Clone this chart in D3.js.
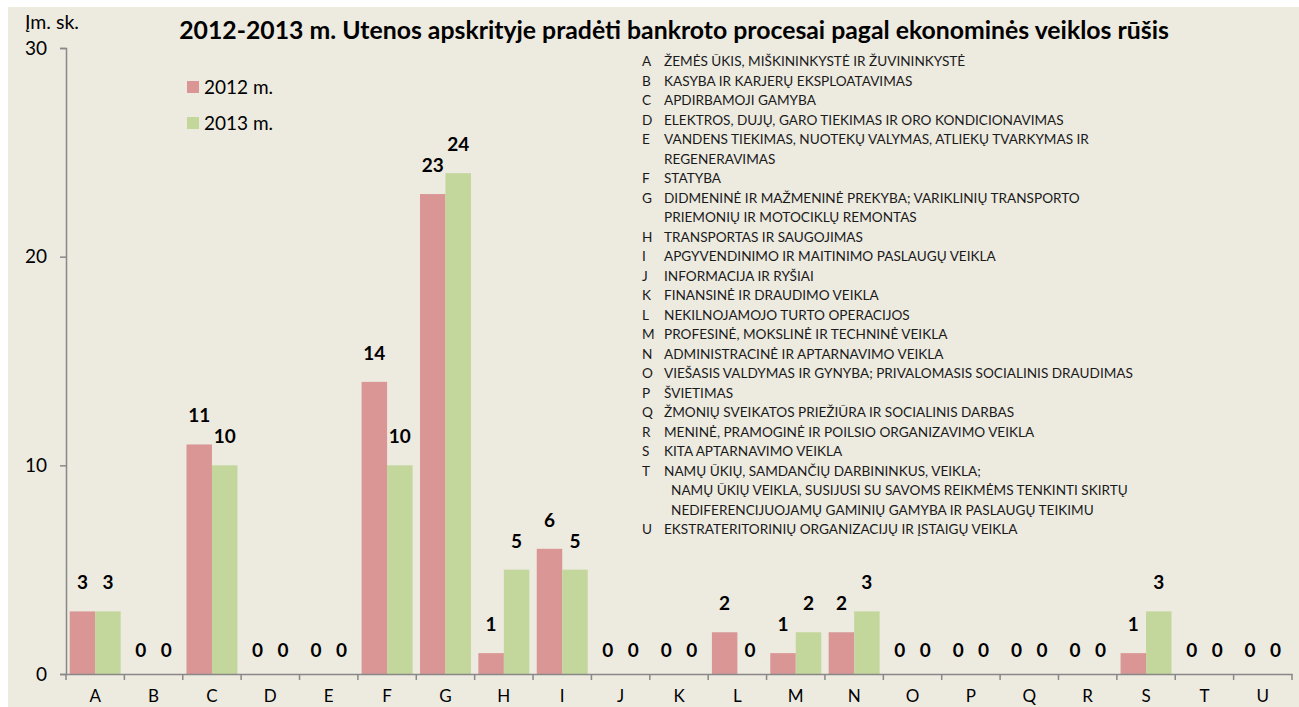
<!DOCTYPE html>
<html>
<head>
<meta charset="utf-8">
<script src="https://cdn.jsdelivr.net/npm/d3@7"></script>
<style>
  html, body { margin: 0; padding: 0; background: #ffffff; }
  svg { display: block; }
</style>
</head>
<body>
<svg id="chart" width="1299" height="707"></svg>
<script>
const categories = ["A","B","C","D","E","F","G","H","I","J","K","L","M","N","O","P","Q","R","S","T","U"];
const seriesNames = ["2012 m.", "2013 m."];
const values2012 = [3,0,11,0,0,14,23,1,6,0,0,2,1,2,0,0,0,0,1,0,0];
const values2013 = [3,0,10,0,0,10,24,5,5,0,0,0,2,3,0,0,0,0,3,0,0];
const yTicks = [0, 10, 20, 30];
const titleText = "2012-2013 m. Utenos apskrityje pradėti bankroto procesai pagal ekonominės veiklos rūšis";
const yAxisTitle = "Įm. sk.";
const sectorCodes = ["A","B","C","D","E","","F","G","","H","I","J","K","L","M","N","O","P","Q","R","S","T","","","U"];
const sectorNames = [
  "ŽEMĖS ŪKIS, MIŠKININKYSTĖ IR ŽUVININKYSTĖ",
  "KASYBA IR KARJERŲ EKSPLOATAVIMAS",
  "APDIRBAMOJI GAMYBA",
  "ELEKTROS, DUJŲ, GARO TIEKIMAS IR ORO KONDICIONAVIMAS",
  "VANDENS TIEKIMAS, NUOTEKŲ VALYMAS, ATLIEKŲ TVARKYMAS IR",
  "REGENERAVIMAS",
  "STATYBA",
  "DIDMENINĖ IR MAŽMENINĖ PREKYBA; VARIKLINIŲ TRANSPORTO",
  "PRIEMONIŲ IR MOTOCIKLŲ REMONTAS",
  "TRANSPORTAS IR SAUGOJIMAS",
  "APGYVENDINIMO IR MAITINIMO PASLAUGŲ VEIKLA",
  "INFORMACIJA IR RYŠIAI",
  "FINANSINĖ IR DRAUDIMO VEIKLA",
  "NEKILNOJAMOJO TURTO OPERACIJOS",
  "PROFESINĖ, MOKSLINĖ IR TECHNINĖ VEIKLA",
  "ADMINISTRACINĖ IR APTARNAVIMO VEIKLA",
  "VIEŠASIS VALDYMAS IR GYNYBA; PRIVALOMASIS SOCIALINIS DRAUDIMAS",
  "ŠVIETIMAS",
  "ŽMONIŲ SVEIKATOS PRIEŽIŪRA IR SOCIALINIS DARBAS",
  "MENINĖ, PRAMOGINĖ IR POILSIO ORGANIZAVIMO VEIKLA",
  "KITA APTARNAVIMO VEIKLA",
  "NAMŲ ŪKIŲ, SAMDANČIŲ DARBININKUS, VEIKLA;",
  " NAMŲ ŪKIŲ VEIKLA, SUSIJUSI SU SAVOMS REIKMĖMS TENKINTI SKIRTŲ",
  " NEDIFERENCIJUOJAMŲ GAMINIŲ GAMYBA IR PASLAUGŲ TEIKIMU",
  "EKSTRATERITORINIŲ ORGANIZACIJŲ IR ĮSTAIGŲ VEIKLA"
];

const colors = ["#D99694", "#C3D69B"];
const font = "Lato, 'Open Sans', sans-serif";
const svg = d3.select("#chart");
const W = 1299, H = 707;

svg.append("rect").attr("x", 8).attr("y", 7).attr("width", W - 8).attr("height", H - 7).attr("fill", "#EDEAE0");

const plot = { left: 66, right: 1292, top: 48, bottom: 674 };

const x = d3.scaleBand().domain(categories).range([plot.left, plot.right]).paddingInner(0.127).paddingOuter(0.0635);
const xs = d3.scaleBand().domain([0, 1]).range([0, x.bandwidth()]);
const y = d3.scaleLinear().domain([0, 30]).range([plot.bottom, plot.top]);
const step = x.step();

const data = categories.map((c, i) => ({ cat: c, vals: [values2012[i], values2013[i]] }));

// bars
const groups = svg.append("g").selectAll("g").data(data).join("g")
  .attr("transform", d => `translate(${x(d.cat)},0)`);
groups.selectAll("rect").data(d => d.vals.map((v, k) => ({ v, k }))).join("rect")
  .attr("x", d => xs(d.k))
  .attr("width", xs.bandwidth())
  .attr("y", d => y(d.v))
  .attr("height", d => y(0) - y(d.v))
  .attr("fill", d => colors[d.k]);

// value labels
groups.selectAll("text").data(d => d.vals.map((v, k) => ({ v, k }))).join("text")
  .attr("x", d => xs(d.k) + xs.bandwidth() / 2)
  .attr("y", d => y(d.v) - (d.v === 0 ? 17 : 22))
  .attr("text-anchor", "middle")
  .attr("font-family", font).attr("font-weight", "bold").attr("font-size", 19)
  .attr("fill", "#000")
  .text(d => d.v);

// y axis
const yAxis = d3.axisLeft(y).tickValues(yTicks).tickSize(6).tickPadding(13);
const gy = svg.append("g").attr("transform", `translate(${plot.left},0)`).call(yAxis);
gy.select(".domain").attr("stroke", "#888").attr("stroke-width", 1.5);
gy.selectAll(".tick line").attr("stroke", "#888").attr("stroke-width", 1.5);
gy.selectAll(".tick text").attr("font-family", font).attr("font-size", 19).attr("fill", "#000");

// x axis
const xAxis = d3.axisBottom(x).tickSize(0).tickPadding(16);
const gx = svg.append("g").attr("transform", `translate(0,${plot.bottom})`).call(xAxis);
gx.select(".domain").attr("stroke", "#888").attr("stroke-width", 1.5);
gx.selectAll(".tick text").attr("font-family", font).attr("font-size", 17).attr("fill", "#000");
const boundaries = d3.range(categories.length + 1).map(i => plot.left + i * step);
gx.selectAll("line.bound").data(boundaries).join("line").attr("class", "bound")
  .attr("x1", d => d).attr("x2", d => d).attr("y1", 0).attr("y2", 6)
  .attr("stroke", "#888").attr("stroke-width", 1.5);

// titles
svg.append("text").attr("x", 674).attr("y", 39).attr("text-anchor", "middle")
  .attr("font-family", font).attr("font-weight", "bold").attr("font-size", 24.8).attr("fill", "#000")
  .text(titleText);
svg.append("text").attr("x", 25).attr("y", 29)
  .attr("font-family", font).attr("font-size", 19.5).attr("fill", "#000")
  .text(yAxisTitle);

// series legend
const leg = svg.append("g").selectAll("g").data(seriesNames).join("g")
  .attr("transform", (d, i) => `translate(187,${81 + i * 36})`);
leg.append("rect").attr("width", 12).attr("height", 12).attr("fill", (d, i) => colors[i]);
leg.append("text").attr("x", 17).attr("y", 13).attr("font-family", font).attr("font-size", 19).attr("fill", "#000").text(d => d);

// sector list
const list = svg.append("g").attr("font-family", font).attr("font-size", 13.6).attr("fill", "#1a1a1a");
list.selectAll("text.code").data(sectorCodes).join("text").attr("class", "code")
  .attr("x", 642).attr("y", (d, i) => 66 + i * 19.5).text(d => d);
list.selectAll("text.name").data(sectorNames).join("text").attr("class", "name")
  .attr("x", (d) => d.startsWith(" ") ? 671 : 664).attr("y", (d, i) => 66 + i * 19.5).text(d => d.trim());
</script>
</body>
</html>
